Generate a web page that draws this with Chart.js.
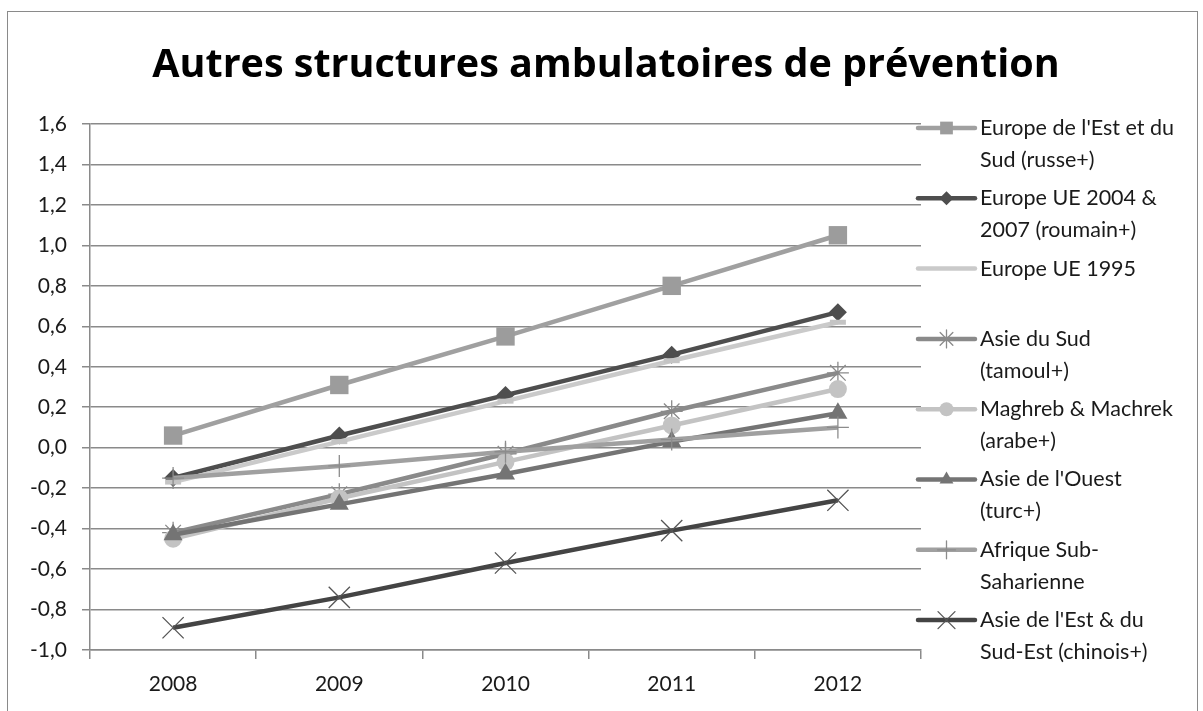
<!DOCTYPE html>
<html>
<head>
<meta charset="utf-8">
<script src="https://cdn.jsdelivr.net/npm/chart.js@4/dist/chart.umd.min.js"></script>
<style>
  html, body { margin: 0; padding: 0; background: #ffffff; }
  #wrap { position: relative; width: 1203px; height: 711px; }
  #frame { position: absolute; left: 7px; top: 11px; width: 1191px; height: 720px; border: 1.5px solid #8a8a8a; box-sizing: border-box; pointer-events: none; }
  canvas { position: absolute; left: 0; top: 0; }
</style>
</head>
<body>
<div id="wrap">
  <canvas id="c" width="1203" height="711"></canvas>
  <div id="frame"></div>
</div>
<script>
// ---- data ----
const chartTitle = "Autres structures ambulatoires de prévention";
const categories = ["2008", "2009", "2010", "2011", "2012"];
const seriesNames = [
  ["Europe de l'Est et du", "Sud (russe+)"],
  ["Europe UE 2004 &", "2007 (roumain+)"],
  ["Europe UE 1995"],
  ["Asie du Sud", "(tamoul+)"],
  ["Maghreb & Machrek", "(arabe+)"],
  ["Asie de l'Ouest", "(turc+)"],
  ["Afrique Sub-", "Saharienne"],
  ["Asie de l'Est & du", "Sud-Est (chinois+)"]
];
const europeEstSud   = [0.06, 0.31, 0.55, 0.80, 1.05];
const europeUE2004   = [-0.15, 0.06, 0.26, 0.46, 0.67];
const europeUE1995   = [-0.17, 0.03, 0.23, 0.43, 0.62];
const asieSud        = [-0.42, -0.23, -0.03, 0.18, 0.37];
const maghrebMachrek = [-0.45, -0.25, -0.07, 0.11, 0.29];
const asieOuest      = [-0.43, -0.28, -0.13, 0.03, 0.17];
const afriqueSub     = [-0.15, -0.09, -0.02, 0.04, 0.10];
const asieEst        = [-0.89, -0.74, -0.57, -0.41, -0.26];
const yTickMin = -1.0, yTickMax = 1.6, yTickStep = 0.2;

// ---- styles ----
const seriesValues = [europeEstSud, europeUE2004, europeUE1995, asieSud, maghrebMachrek, asieOuest, afriqueSub, asieEst];
const styles = [
  { color: "#a0a0a0", point: "rect",     radius: 13, pb: 0,   pc: "#9c9c9c", lr: 9 },
  { color: "#4e4e4e", point: "rectRot",  radius: 9,  pb: 0,   pc: "#4e4e4e", lr: 7 },
  { color: "#cacaca", point: "line",     radius: 8,  pb: 5,   pc: "#c4c4c4", lr: 0 },
  { color: "#8a8a8a", point: "star",     radius: 11, pb: 1.3, pc: "#8a8a8a", lr: 9 },
  { color: "#c3c3c3", point: "circle",   radius: 9,  pb: 0,   pc: "#c3c3c3", lr: 7 },
  { color: "#747474", point: "triangle", radius: 11, pb: 0,   pc: "#747474", lr: 8 },
  { color: "#a0a0a0", point: "cross",    radius: 11, pb: 1.3, pc: "#8c8c8c", lr: 9 },
  { color: "#444444", point: "crossRot", radius: 15, pb: 1.3, pc: "#555555", lr: 12 }
];
const FONT = "Lato, 'Open Sans', sans-serif";

const datasets = seriesValues.map((vals, i) => {
  const s = styles[i];
  const filled = s.pb === 0;
  return {
    label: seriesNames[i].join(" "),
    data: vals,
    borderColor: s.color,
    backgroundColor: s.color,
    borderWidth: 4.5,
    tension: 0,
    fill: false,
    pointStyle: s.point,
    pointRadius: s.radius,
    pointHoverRadius: s.radius,
    pointBackgroundColor: s.pc,
    pointBorderColor: s.pc,
    pointBorderWidth: filled ? 0 : s.pb,
    order: seriesValues.length - i
  };
});

const titlePlugin = {
  id: "centeredTitle",
  afterDraw(chart) {
    const ctx = chart.ctx;
    ctx.save();
    ctx.fillStyle = "#000000";
    ctx.font = "bold 39.5px 'Open Sans', Lato, sans-serif";
    ctx.textAlign = "center";
    ctx.textBaseline = "alphabetic";
    ctx.fillText(chartTitle, 606, 77);
    ctx.restore();
  }
};

const legendPlugin = {
  id: "customLegend",
  afterDraw(chart) {
    const ctx = chart.ctx;
    ctx.save();
    const x0 = 918, x1 = 975, tx = 980, yStart = 128, gap = 70.3, lineGap = 32;
    chart.data.datasets.forEach((ds, i) => {
      const y = yStart + gap * i;
      const s = styles[i];
      ctx.lineCap = "round";
      ctx.strokeStyle = s.color;
      ctx.lineWidth = 4.5;
      ctx.beginPath(); ctx.moveTo(x0, y); ctx.lineTo(x1, y); ctx.stroke();
      if (s.lr > 0 && Chart.helpers && Chart.helpers.drawPoint) {
        ctx.fillStyle = s.pc; ctx.strokeStyle = s.pc;
        ctx.lineWidth = s.pb || 1;
        Chart.helpers.drawPoint(ctx, { pointStyle: s.point, radius: s.lr, rotation: 0, borderWidth: s.pb || 0 }, (x0 + x1) / 2, y);
      }
      ctx.fillStyle = "#1a1a1a";
      ctx.font = "21.5px " + FONT;
      ctx.textBaseline = "middle";
      ctx.textAlign = "left";
      seriesNames[i].forEach((t, k) => ctx.fillText(t, tx, y + k * lineGap));
    });
    ctx.restore();
  }
};

new Chart(document.getElementById("c"), {
  type: "line",
  data: { labels: categories, datasets: datasets },
  plugins: [titlePlugin, legendPlugin],
  options: {
    responsive: false,
    animation: false,
    events: [],
    layout: { padding: { left: 0, right: 282, top: 124, bottom: 0 } },
    plugins: {
      legend: { display: false },
      tooltip: { enabled: false },
      title: { display: false }
    },
    scales: {
      x: {
        offset: true,
        grid: { offset: true, drawOnChartArea: false, drawTicks: true, tickLength: 9, color: "#8a8a8a", lineWidth: 1.5 },
        border: { color: "#8a8a8a", width: 1.5 },
        ticks: { color: "#1a1a1a", font: { family: FONT, size: 21 }, padding: 13, maxRotation: 0 },
        afterFit(s) { s.height = 61; }
      },
      y: {
        min: yTickMin, max: yTickMax,
        grid: { color: "#8a8a8a", lineWidth: 1.5, tickLength: 8 },
        border: { color: "#8a8a8a", width: 1.5 },
        ticks: {
          stepSize: yTickStep,
          color: "#1a1a1a",
          font: { family: FONT, size: 21 },
          padding: 15,
          callback: v => (Math.round(v * 10) / 10).toFixed(1).replace(".", ",")
        },
        afterFit(s) { s.width = 90; }
      }
    }
  }
});
</script>
</body>
</html>
